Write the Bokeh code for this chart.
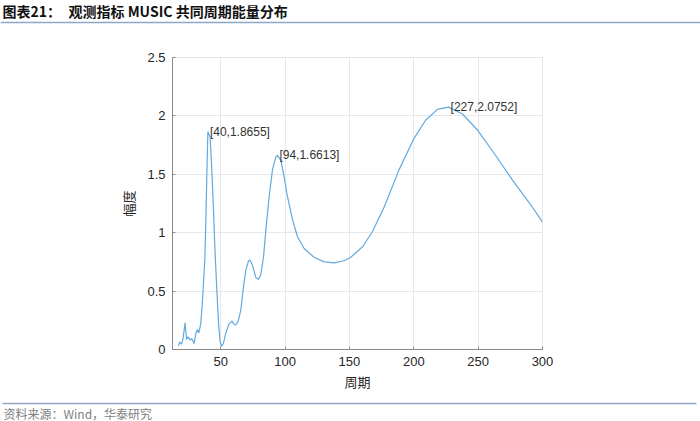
from bokeh.plotting import figure
from bokeh.models import Range1d, FixedTicker
from bokeh.layouts import column
from bokeh.embed import file_html
from bokeh.resources import INLINE
from bokeh.core.properties import value

# ---------------- data ----------------
title_prefix = "图表21："
title_text = "观测指标 MUSIC 共同周期能量分布"
source_text = "资料来源：Wind，华泰研究"
x_label = "周期"
y_label = "幅度"

period = [17.2, 18.2, 19.5, 20.5, 22.3, 23.4, 24.6, 26.2, 27.5, 29.3, 30.6, 31.9, 33.0,
          34.5, 35.8, 36.5, 37.6, 38.4, 39.2, 40, 41.7, 43.0, 44.5, 45.7, 47.0, 48.3,
          49.5, 50.6, 52.0, 53.9, 56.5, 58.6, 60.4, 61.7, 63.5, 65.6, 67.7, 69.5, 71.6,
          72.8, 74.7, 77.2, 79.3, 81.1, 83.2, 85.0, 87.6, 90.2, 92.8, 94, 96.7, 99.2,
          101.8, 105.8, 109.6, 114.8, 122.5, 130.3, 138.0, 145.9, 151.0, 160.2, 167.9,
          177.0, 188.6, 200.3, 209.3, 218.4, 227, 237.8, 249.5, 262.4, 276.7, 291.0, 300.0]
amplitude = [0.031, 0.065, 0.045, 0.08, 0.228, 0.086, 0.108, 0.08, 0.094, 0.051, 0.137,
             0.171, 0.142, 0.223, 0.42, 0.55, 0.77, 1.1, 1.5, 1.8655, 1.82, 1.55, 1.15,
             0.8, 0.5, 0.22, 0.07, 0.028, 0.05, 0.14, 0.22, 0.243, 0.215, 0.21, 0.24,
             0.34, 0.54, 0.68, 0.76, 0.765, 0.72, 0.617, 0.6, 0.64, 0.79, 1.02, 1.31,
             1.54, 1.65, 1.6613, 1.62, 1.48, 1.31, 1.11, 0.965, 0.865, 0.79, 0.75, 0.742,
             0.76, 0.79, 0.88, 1.01, 1.22, 1.54, 1.81, 1.965, 2.056, 2.0752, 2.016, 1.879,
             1.68, 1.45, 1.237, 1.09]

peak_period = [40, 94, 227]
peak_amplitude = [1.8655, 1.6613, 2.0752]
peak_labels = [f"[{a},{b}]" for a, b in zip(peak_period, peak_amplitude)]

x_ticks = [50, 100, 150, 200, 250, 300]
x_tick_labels = ["50", "100", "150", "200", "250", "300"]
y_ticks = [0, 0.5, 1, 1.5, 2, 2.5]
y_tick_labels = ["0", "0.5", "1", "1.5", "2", "2.5"]

# ---------------- styles ----------------
W = 700
CJK = "Noto Sans CJK SC"
RULE = "#8fa6c8"
LINE = "#62a9de"
TXT = "#262626"

# ---------------- title strip ----------------
TH = 30
top = figure(width=W, height=TH, output_backend="svg", toolbar_location=None,
             x_range=Range1d(0, W), y_range=Range1d(0, TH),
             x_axis_type=None, y_axis_type=None, min_border=0, frame_align=False)
top.outline_line_color = None
top.grid.visible = False
top.text(x=[2], y=[TH - 10], text=[title_prefix], text_font=value(CJK),
         text_font_style="bold", text_font_size="14px", text_color="#111111",
         text_baseline="middle", text_align="left")
top.text(x=[68], y=[TH - 10], text=[title_text], text_font=value(CJK),
         text_font_style="bold", text_font_size="14px", text_color="#111111",
         text_baseline="middle", text_align="left")
top.segment(x0=[0], y0=[TH - 22], x1=[W], y1=[TH - 22], line_color=RULE, line_width=1.5)

# ---------------- main chart ----------------
p = figure(width=W, height=365, output_backend="svg", toolbar_location=None,
           x_range=Range1d(12.5, 300), y_range=Range1d(0, 2.5), frame_align=False,
           min_border_left=172, min_border_right=158, min_border_top=27, min_border_bottom=46)
p.background_fill_color = "white"
p.border_fill_color = "white"
p.outline_line_color = "#e6e6e6"

p.line(period, amplitude, line_color=LINE, line_width=1.2)
p.text(x=peak_period, y=peak_amplitude, text=peak_labels, x_offset=2,
       text_font=value("Liberation Sans"), text_font_size="12px", text_color="#333333",
       text_baseline="middle", text_align="left")

p.xaxis.ticker = FixedTicker(ticks=x_ticks)
p.yaxis.ticker = FixedTicker(ticks=y_ticks)
p.xaxis.major_label_overrides = dict(zip(x_ticks, x_tick_labels))
p.yaxis.major_label_overrides = dict(zip(y_ticks, y_tick_labels))
p.xgrid.ticker = FixedTicker(ticks=x_ticks)
p.ygrid.ticker = FixedTicker(ticks=y_ticks)
p.grid.grid_line_color = "#e8e8e8"
p.grid.grid_line_width = 1

for ax in (p.xaxis, p.yaxis):
    ax.axis_line_color = "#8a8a8a"
    ax.major_tick_line_color = "#8a8a8a"
    ax.major_tick_in = 3
    ax.major_tick_out = 0
    ax.minor_tick_line_color = None
    ax.major_label_text_font = "Liberation Sans"
    ax.major_label_text_font_size = "13px"
    ax.major_label_text_color = TXT
    ax.axis_label_text_font = CJK
    ax.axis_label_text_font_size = "13px"
    ax.axis_label_text_font_style = "normal"
    ax.axis_label_text_color = TXT

p.xaxis.axis_label = x_label
p.yaxis.axis_label = y_label
p.xaxis.major_label_standoff = 7
p.yaxis.major_label_standoff = 7
p.xaxis.axis_label_standoff = 3
p.yaxis.axis_label_standoff = 6

# ---------------- source strip ----------------
BH = 26
bot = figure(width=W, height=BH, output_backend="svg", toolbar_location=None,
             x_range=Range1d(0, W), y_range=Range1d(0, BH),
             x_axis_type=None, y_axis_type=None, min_border=0, frame_align=False)
bot.outline_line_color = None
bot.grid.visible = False
bot.segment(x0=[2], y0=[BH - 8], x1=[696], y1=[BH - 8], line_color=RULE, line_width=1.5)
bot.text(x=[3], y=[BH - 18], text=[source_text], text_font=value(CJK),
         text_font_size="12px", text_color="#808080",
         text_baseline="middle", text_align="left")

layout = column(top, p, bot, spacing=0)
open("out.html", "w").write(file_html(layout, INLINE))
